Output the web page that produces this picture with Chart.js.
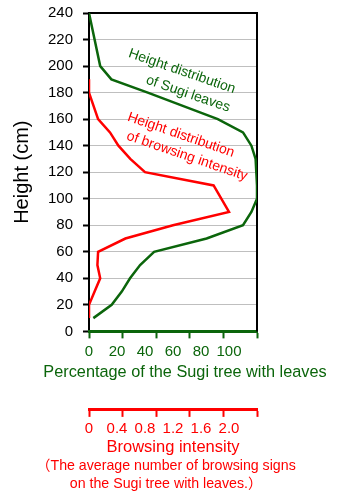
<!DOCTYPE html>
<html>
<head>
<meta charset="utf-8">
<script src="https://cdn.jsdelivr.net/npm/chart.js@4.4.1/dist/chart.umd.min.js"></script>
<style>
  html, body { margin: 0; padding: 0; background: #fff; }
  #wrap { position: relative; width: 348px; height: 500px; }
</style>
</head>
<body>
<div id="wrap"><canvas id="sugiChart"></canvas></div>
<script>
// Height distribution of Sugi leaves (percentage of trees with leaves)
const leafHeights = [240, 200, 190, 180, 170, 160, 150, 140, 130, 120, 110, 100, 90, 80, 70, 60, 50, 40, 30, 20, 10];
const leafPercent = [0, 8, 16, 42, 67, 92, 110, 116, 119, 119.5, 120, 120, 116, 110, 84, 46.5, 36.5, 29.3, 23.4, 16.2, 3.1];

// Height distribution of browsing intensity
const browseHeights = [190, 180, 160, 150, 140, 130, 120, 110, 90, 80, 70, 60, 50, 40, 30, 20, 10];
const browseIntensity = [0, 0, 0.13, 0.3, 0.42, 0.59, 0.8, 1.78, 2.0, 1.2, 0.52, 0.13, 0.12, 0.16, 0.08, 0, 0];

// axes
const heightTicks = [0, 20, 40, 60, 80, 100, 120, 140, 160, 180, 200, 220, 240];
const leafLabels = [0, 20, 40, 60, 80, 100];
const leafMarks = [0, 24, 48, 72, 96, 120];
const browseLabels = ['0', '0.4', '0.8', '1.2', '1.6', '2.0'];
const browseMarks = [0, 0.48, 0.96, 1.44, 1.92, 2.4];

const GREEN = '#0b650b';
const RED = '#ff0000';
const FONT = "'Liberation Sans', Arial, 'Noto Sans CJK JP', sans-serif";

const near = (a, b) => Math.abs(a - b) < 1e-6;

// labels and tick marks sit at different values on the two x axes
function mixedTicks(labelVals, markVals) {
    return function(scale) {
        const vals = labelVals.concat(markVals).sort((a, b) => a - b)
            .filter((v, i, arr) => i === 0 || !near(v, arr[i - 1]));
        scale.ticks = vals.map(v => ({ value: v }));
    };
}

const frame = {
    id: 'frame',
    beforeDatasetsDraw(chart) {
        const { ctx, chartArea: a } = chart;
        ctx.save();
        ctx.strokeStyle = '#000';
        ctx.lineWidth = 2;
        ctx.beginPath();
        ctx.moveTo(a.left, a.top);
        ctx.lineTo(a.right, a.top);
        ctx.lineTo(a.right, a.bottom);
        ctx.stroke();
        ctx.restore();
    }
};

const notes = [
    { text: 'Height distribution', color: GREEN, x: 66.4, y: 196 },
    { text: 'of Sugi leaves', color: GREEN, x: 70.7, y: 179 },
    { text: 'Height distribution', color: RED, x: 65.7, y: 148 },
    { text: 'of browsing intensity', color: RED, x: 70, y: 132 }
];

// rotated curve labels + the wide green axis title (wider than the axis itself)
const texts = {
    id: 'texts',
    afterDraw(chart) {
        const { ctx } = chart;
        const xs = chart.scales.x, ys = chart.scales.y;
        ctx.save();
        ctx.textAlign = 'center';
        ctx.textBaseline = 'middle';
        ctx.font = '14px ' + FONT;
        notes.forEach(n => {
            ctx.save();
            ctx.translate(xs.getPixelForValue(n.x), ys.getPixelForValue(n.y));
            ctx.rotate(19 * Math.PI / 180);
            ctx.fillStyle = n.color;
            ctx.fillText(n.text, 0, 0);
            ctx.restore();
        });
        ctx.font = '16.3px ' + FONT;
        ctx.fillStyle = GREEN;
        ctx.fillText('Percentage of the Sugi tree with leaves', (xs.left + xs.right) / 2 + 12, xs.top + 41.5);
        ctx.restore();
    }
};

new Chart(document.getElementById('sugiChart'), {
    type: 'scatter',
    data: {
        datasets: [{
            label: 'Sugi leaves',
            data: leafHeights.map((h, i) => ({ x: leafPercent[i], y: h })),
            borderColor: GREEN,
            borderWidth: 2.5,
            showLine: true,
            pointRadius: 0,
            xAxisID: 'x'
        }, {
            label: 'Browsing intensity',
            data: browseHeights.map((h, i) => ({ x: browseIntensity[i], y: h })),
            borderColor: RED,
            borderWidth: 2.5,
            showLine: true,
            pointRadius: 0,
            xAxisID: 'xr'
        }]
    },
    options: {
        responsive: true,
        maintainAspectRatio: false,
        animation: false,
        layout: { padding: { left: 0, right: 16, top: 13, bottom: 7.6 } },
        plugins: {
            legend: { display: false },
            tooltip: { enabled: false },
            subtitle: {
                display: true,
                position: 'bottom',
                text: ['（The average number of browsing signs', 'on the Sugi tree with leaves.）'],
                color: RED,
                font: { family: FONT, size: 14.2, lineHeight: 1.24 },
                padding: { top: 0, bottom: 0 }
            }
        },
        scales: {
            y: {
                type: 'linear',
                position: 'left',
                min: 0,
                max: 240,
                afterBuildTicks: scale => { scale.ticks = heightTicks.map(v => ({ value: v })); },
                afterFit: scale => { scale.width = 89; scale.paddingTop = 0; scale.paddingBottom = 0; },
                ticks: { color: '#000', font: { family: FONT, size: 15 }, padding: 10 },
                grid: { color: '#bfbfbf', lineWidth: 1, tickColor: '#000', tickLength: 6, tickWidth: 2 },
                border: { color: '#000', width: 2 },
                title: { display: true, text: 'Height (cm)', color: '#000', font: { family: FONT, size: 20 }, padding: { top: 10, bottom: 4 } }
            },
            yr: {
                type: 'linear',
                position: 'right',
                min: 0,
                max: 240,
                afterFit: scale => { scale.width = 75; scale.paddingTop = 0; scale.paddingBottom = 0; },
                ticks: { display: false },
                grid: { display: false },
                border: { display: false }
            },
            x: {
                type: 'linear',
                position: 'bottom',
                weight: 0,
                min: 0,
                max: 120,
                afterBuildTicks: mixedTicks(leafLabels, leafMarks),
                afterFit: scale => { scale.height = 78.5; },
                ticks: {
                    color: GREEN,
                    font: { family: FONT, size: 15 },
                    padding: 4.5,
                    maxRotation: 0,
                    autoSkip: false,
                    callback: v => leafLabels.some(l => near(l, v)) ? String(v) : ''
                },
                grid: {
                    drawOnChartArea: false,
                    tickLength: 7,
                    tickWidth: 2,
                    tickColor: c => leafMarks.some(m => near(m, c.tick.value)) ? GREEN : 'rgba(0,0,0,0)'
                },
                border: { color: GREEN, width: 3 }
            },
            xr: {
                type: 'linear',
                position: 'bottom',
                weight: 1,
                min: 0,
                max: 2.4,
                afterBuildTicks: mixedTicks(browseLabels.map(Number), browseMarks),
                afterFit: scale => { scale.height = 47.3; },
                ticks: {
                    color: RED,
                    font: { family: FONT, size: 15 },
                    padding: 3,
                    maxRotation: 0,
                    autoSkip: false,
                    callback: v => {
                        const i = browseLabels.findIndex(l => near(Number(l), v));
                        return i >= 0 ? browseLabels[i] : '';
                    }
                },
                grid: {
                    drawOnChartArea: false,
                    tickLength: 7,
                    tickWidth: 2,
                    tickColor: c => browseMarks.some(m => near(m, c.tick.value)) ? RED : 'rgba(0,0,0,0)'
                },
                border: { color: RED, width: 3 },
                title: {
                    display: true,
                    text: 'Browsing intensity',
                    color: RED,
                    font: { family: FONT, size: 16.5 },
                    padding: { top: 0, bottom: 0 }
                }
            }
        }
    },
    plugins: [frame, texts]
});
</script>
</body>
</html>
